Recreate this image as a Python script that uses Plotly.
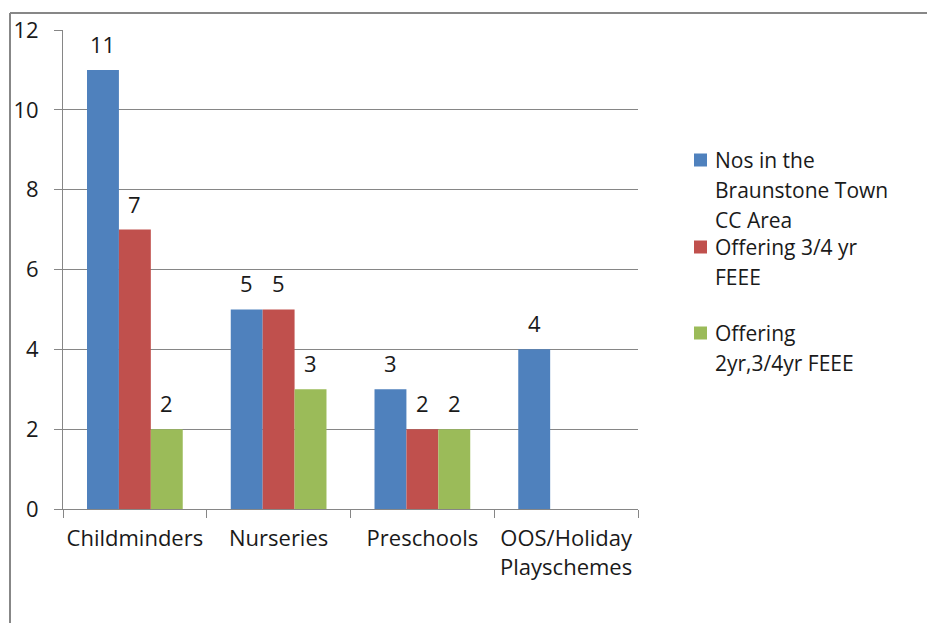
import plotly.graph_objects as go

categories = ["Childminders", "Nurseries", "Preschools", "OOS/Holiday<br>Playschemes"]
series_names = ["Nos in the<br>Braunstone Town<br>CC Area", "Offering 3/4 yr<br>FEEE", "Offering<br>2yr,3/4yr FEEE"]
nos_in_area = [11, 5, 3, 4]
offering_34 = [7, 5, 2, None]
offering_2_34 = [2, 3, 2, None]
series_values = [nos_in_area, offering_34, offering_2_34]
colors = ["#4F81BD", "#C0504D", "#9BBB59"]
y_ticks = [0, 2, 4, 6, 8, 10, 12]

OFF = 8  # page body margin of the browser
W, H = 935 - OFF, 623 - OFF
L, R, T, B = 63 - OFF, 638 - OFF, 30 - OFF, 509 - OFF
FONT = "Open Sans"
FS = 22


def px_x(px):
    return (px - OFF - L) / (R - L)


def px_y(py):
    return (B - (py - OFF)) / (B - T)


fig = go.Figure()
for name, vals, col in zip(series_names, series_values, colors):
    fig.add_trace(go.Bar(x=categories, y=vals, name=name, marker=dict(color=col, line=dict(width=0)),
                         showlegend=False))

# data labels
bargap = 0.334
bar_px = (R - L) / len(categories) * (1 - bargap) / len(series_values)
annotations = []
for k, vals in enumerate(series_values):
    for c, v in zip(categories, vals):
        if v is None:
            continue
        annotations.append(dict(x=c, y=v, xref="x", yref="y", text=str(v), showarrow=False,
                                xshift=(k - 1) * bar_px, yshift=9, yanchor="bottom",
                                font=dict(family=FONT, size=FS, color="#1a1a1a")))

# manual legend (Excel-like spacing)
legend_first_line = [160, 247, 333]
line_gap = 30
shapes = []
for name, col, y0 in zip(series_names, colors, legend_first_line):
    shapes.append(dict(type="rect", xref="paper", yref="paper",
                       x0=px_x(694), x1=px_x(707), y0=px_y(y0 + 6.5), y1=px_y(y0 - 6.5),
                       fillcolor=col, line=dict(width=0)))
    for i, line in enumerate(name.split("<br>")):
        annotations.append(dict(x=px_x(713), y=px_y(y0 + i * line_gap), xref="paper", yref="paper",
                                text=line, showarrow=False, xanchor="left", yanchor="middle",
                                font=dict(family=FONT, size=21, color="#1a1a1a")))

# outer chart border (left and top)
shapes.append(dict(type="line", xref="paper", yref="paper", x0=px_x(10), x1=px_x(945),
                   y0=px_y(13), y1=px_y(13), line=dict(color="#878787", width=2)))
shapes.append(dict(type="line", xref="paper", yref="paper", x0=px_x(10), x1=px_x(10),
                   y0=px_y(13), y1=px_y(640), line=dict(color="#878787", width=2)))

fig.update_layout(
    width=W, height=H,
    margin=dict(l=L, r=W - R, t=T, b=H - B, pad=0, autoexpand=False),
    paper_bgcolor="white", plot_bgcolor="white",
    barmode="group", bargap=bargap, bargroupgap=0,
    showlegend=False,
    font=dict(family=FONT, size=FS, color="#1a1a1a"),
    annotations=annotations, shapes=shapes,
)
fig.update_xaxes(type="category", showline=True, linecolor="#868686", linewidth=1,
                 ticks="outside", tickson="boundaries", ticklen=8, tickcolor="#868686",
                 showgrid=False, tickangle=0, automargin=False, ticklabelstandoff=10,
                 tickfont=dict(family=FONT, size=FS, color="#1a1a1a"))
fig.update_yaxes(range=[0, 12], tickvals=y_ticks, showline=True, linecolor="#868686", linewidth=1,
                 ticks="outside", ticklen=8, tickcolor="#868686", showgrid=True,
                 gridcolor="#868686", gridwidth=1, zeroline=False, ticklabelstandoff=11,
                 automargin=False,
                 tickfont=dict(family=FONT, size=FS, color="#1a1a1a"))

fig.write_html("out.html")
